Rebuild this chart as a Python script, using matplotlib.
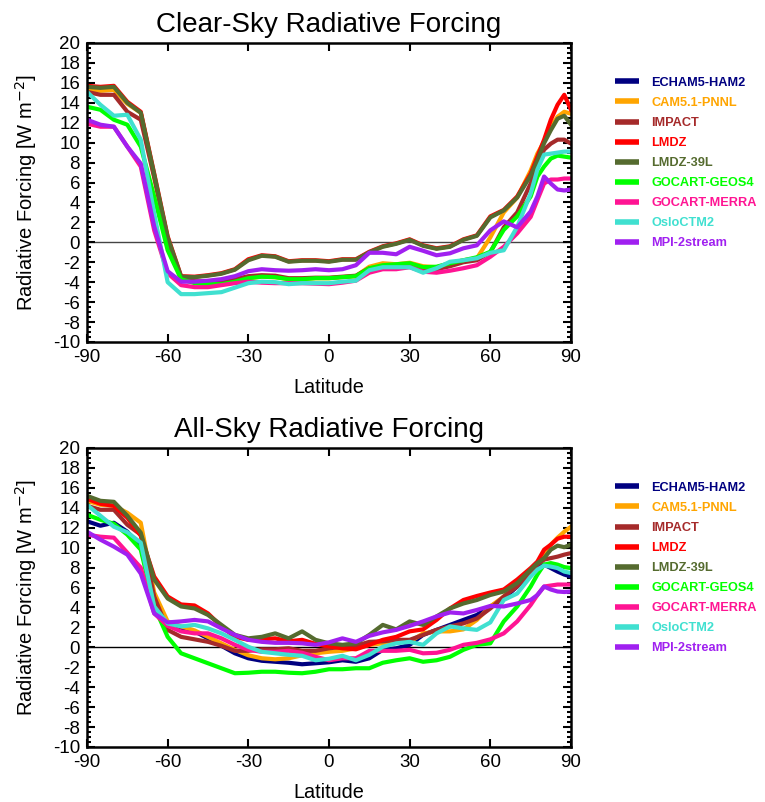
import matplotlib.pyplot as plt
from matplotlib.lines import Line2D
from matplotlib.ticker import MultipleLocator

plt.rcParams['font.family'] = ['Liberation Sans', 'DejaVu Sans']
plt.rcParams['axes.unicode_minus'] = False

# latitude grid (finer near the north pole)
lat = [-90, -85, -80, -75, -70, -65, -60, -55, -50, -45, -40, -35, -30, -25,
       -20, -15, -10, -5, 0, 5, 10, 15, 20, 25, 30, 35, 40, 45, 50, 55, 60,
       65, 70, 75, 77.5, 80, 82.5, 85, 87.5, 90]

models = ['ECHAM5-HAM2', 'CAM5.1-PNNL', 'IMPACT', 'LMDZ', 'LMDZ-39L',
          'GOCART-GEOS4', 'GOCART-MERRA', 'OsloCTM2', 'MPI-2stream']
colors = ['#000080', '#FFA500', '#A52A2A', '#FF0000', '#556B2F',
          '#00FF00', '#FF1493', '#40E0D0', '#A020F0']

# clear-sky forcing, W m-2 (no ECHAM5-HAM2 curve)
clr_cam = [15.3, 15.2, 15.3, 13.9, 13.0, 6.6, 0.3, -3.6, -4.0, -4.1, -4.1, -3.9, -3.6, -3.45,
           -3.5, -3.7, -3.7, -3.6, -3.6, -3.5, -3.4, -2.45, -2.1, -2.2, -2.05, -2.4, -2.5, -2.1, -1.8, -1.6, 0.5,
           3.0, 4.5, 7.2, 8.9, 10.1, 11.6, 12.6, 13.1, 12.9]
clr_impact = [15.1, 14.8, 14.8, 13.1, 12.3, 6.5, 0.3, -3.6, -3.9, -3.95, -3.9, -3.7, -3.4, -3.3,
              -3.35, -3.6, -3.6, -3.55, -3.55, -3.45, -3.35, -2.6, -2.5, -2.5, -2.3, -2.6, -2.7, -2.4, -2.0, -1.8, -1.0,
              1.5, 3.0, 5.9, 7.8, 9.3, 9.9, 10.3, 10.3, 9.9]
clr_lmdz = [15.7, 15.6, 15.7, 14.1, 13.1, 6.9, 0.6, -3.4, -3.45, -3.3, -3.1, -2.7, -1.7, -1.3,
            -1.4, -1.9, -1.8, -1.8, -1.9, -1.7, -1.7, -0.95, -0.4, -0.1, 0.3, -0.3, -0.6, -0.4, 0.3, 0.7, 2.6,
            3.25, 4.6, 6.9, 8.6, 10.3, 12.3, 13.8, 14.8, 13.3]
clr_lmdz39 = [15.6, 15.5, 15.6, 14.0, 13.0, 6.8, 0.5, -3.45, -3.5, -3.35, -3.15, -2.75, -1.8, -1.35,
              -1.45, -1.95, -1.85, -1.85, -1.95, -1.75, -1.75, -1.0, -0.45, -0.15, 0.25, -0.35, -0.65, -0.45, 0.25, 0.65, 2.5,
              3.2, 4.5, 6.7, 8.25, 9.95, 11.25, 12.4, 12.7, 11.8]
clr_geos4 = [13.6, 13.3, 12.3, 11.8, 9.6, 4.6, -0.8, -3.7, -4.1, -4.2, -4.2, -3.95, -3.6, -3.45,
             -3.5, -3.7, -3.7, -3.6, -3.6, -3.5, -3.4, -2.6, -2.3, -2.2, -2.1, -2.5, -2.45, -2.1, -1.8, -1.5, -0.95,
             1.25, 2.6, 4.6, 6.6, 7.6, 8.4, 8.7, 8.6, 8.5]
clr_merra = [11.9, 11.6, 11.6, 9.6, 7.6, 1.2, -3.1, -4.3, -4.5, -4.5, -4.3, -4.1, -3.95, -4.05,
             -4.1, -4.1, -4.1, -4.15, -4.2, -4.05, -3.85, -3.05, -2.7, -2.7, -2.5, -2.95, -3.05, -2.85, -2.6, -2.3, -1.45,
             -0.45, 0.9, 2.55, 4.25, 5.9, 6.3, 6.3, 6.4, 6.4]
clr_oslo = [15.1, 13.8, 12.7, 12.8, 10.3, 2.9, -4.0, -5.2, -5.2, -5.1, -5.0, -4.55, -4.1, -3.95,
            -4.0, -4.2, -4.1, -4.1, -4.1, -3.95, -3.85, -2.8, -2.5, -2.5, -2.5, -3.05, -2.6, -1.95, -1.8, -1.6, -1.05,
            -0.8, 1.55, 4.9, 7.3, 8.8, 8.9, 9.0, 9.1, 9.1]
clr_mpi = [12.3, 11.8, 11.6, 9.6, 7.9, 1.6, -2.9, -3.95, -3.95, -3.85, -3.7, -3.4, -2.9, -2.7,
           -2.8, -2.85, -2.8, -2.7, -2.8, -2.7, -2.3, -1.05, -1.05, -1.2, -0.45, -0.85, -1.3, -1.1, -0.6, -0.3, 1.2,
           2.1, 1.5, 3.1, 4.6, 6.6, 5.9, 5.3, 5.2, 5.3]

# all-sky forcing, W m-2
all_echam = [12.65, 12.2, 12.5, 11.6, 10.1, 4.4, 2.4, 1.9, 1.6, 0.9, 0.15, -0.6, -1.1, -1.35,
             -1.45, -1.55, -1.7, -1.6, -1.5, -1.3, -1.45, -1.1, -0.25, -0.1, 0.25, 1.25, 1.75, 2.25, 2.75, 3.25, 4.1,
             4.9, 6.1, 7.45, 7.95, 8.3, 7.95, 7.6, 7.3, 7.1]
all_cam = [14.7, 14.3, 14.2, 13.5, 12.5, 5.5, 2.6, 2.1, 1.7, 1.05, 0.4, -0.25, -0.8, -1.1,
           -1.2, -1.1, -0.8, -0.6, -0.45, -0.35, -0.1, 0.25, 0.4, 0.55, 0.55, 1.4, 1.6, 1.6, 1.8, 2.75, 4.1,
           5.1, 6.45, 7.8, 8.45, 9.3, 10.3, 11.0, 11.6, 12.1]
all_impact = [14.2, 13.8, 13.8, 12.3, 11.3, 5.1, 1.75, 1.05, 0.8, 0.55, 0.15, -0.35, -0.35, -0.2,
              -0.2, -0.1, -0.35, -0.35, -0.1, 0.05, 0.15, 0.55, 0.6, 0.75, 0.75, 1.25, 1.75, 2.1, 2.4, 2.9, 3.9,
              5.1, 6.1, 7.6, 8.3, 8.8, 8.95, 9.1, 9.3, 9.45]
all_lmdz = [14.9, 14.4, 14.2, 13.0, 11.2, 7.1, 5.1, 4.3, 4.2, 3.4, 2.1, 1.05, 0.75, 0.8,
            0.9, 0.6, 0.75, 0.35, 0.1, -0.1, -0.2, 0.25, 0.75, 1.05, 1.6, 1.8, 2.75, 3.9, 4.75, 5.15, 5.5,
            5.8, 6.8, 7.95, 8.6, 9.8, 10.3, 10.9, 11.1, 11.1]
all_lmdz39 = [15.2, 14.7, 14.6, 13.2, 11.5, 6.8, 4.9, 4.1, 3.9, 3.25, 2.25, 1.25, 0.9, 1.05,
              1.4, 0.9, 1.6, 0.75, 0.4, 0.25, 0.4, 1.25, 2.25, 1.8, 2.6, 2.25, 3.1, 3.9, 4.4, 4.75, 5.25,
              5.6, 6.45, 7.8, 8.45, 8.95, 9.8, 10.2, 10.05, 10.3]
all_geos4 = [13.3, 12.8, 12.4, 11.3, 9.8, 4.1, 1.05, -0.6, -1.1, -1.6, -2.1, -2.6, -2.55, -2.45,
             -2.45, -2.55, -2.6, -2.45, -2.2, -2.2, -2.1, -2.1, -1.55, -1.3, -1.1, -1.45, -1.3, -0.95, -0.25, 0.25, 0.4,
             2.6, 4.1, 6.1, 7.3, 8.3, 8.45, 8.3, 8.05, 7.95]
all_merra = [11.3, 11.1, 11.0, 9.5, 8.0, 3.4, 2.15, 1.6, 1.4, 1.4, 0.9, 0.25, -0.25, -0.45,
             -0.45, -0.35, -0.55, -0.95, -1.3, -1.1, -1.1, -0.35, -0.35, -0.35, -0.25, -0.6, -0.55, -0.25, 0.25, 0.45, 0.8,
             1.4, 2.6, 4.25, 5.25, 6.1, 6.2, 6.3, 6.3, 6.3]
all_oslo = [14.3, 13.2, 12.1, 11.55, 10.5, 4.1, 2.4, 2.1, 2.25, 1.9, 1.4, 0.75, 0.05, -0.45,
            -0.6, -0.75, -0.85, -1.3, -1.15, -0.85, -1.3, -0.75, 0.05, 0.4, 0.55, 0.25, 1.4, 2.1, 1.9, 1.75, 2.5,
            4.75, 5.4, 7.1, 7.8, 8.2, 8.1, 7.95, 7.6, 7.45]
all_mpi = [11.6, 10.8, 10.1, 9.3, 7.4, 3.4, 2.5, 2.6, 2.75, 2.6, 1.9, 1.25, 0.75, 0.55,
           0.45, 0.45, 0.4, 0.25, 0.5, 0.9, 0.55, 1.15, 1.5, 1.75, 2.15, 2.6, 3.1, 3.5, 3.4, 3.75, 4.15,
           4.1, 4.4, 4.75, 5.25, 6.1, 5.8, 5.6, 5.55, 5.6]

clear_sky = [None, clr_cam, clr_impact, clr_lmdz, clr_lmdz39,
             clr_geos4, clr_merra, clr_oslo, clr_mpi]
all_sky = [all_echam, all_cam, all_impact, all_lmdz, all_lmdz39,
           all_geos4, all_merra, all_oslo, all_mpi]

fig = plt.figure(figsize=(7.65, 8.02), dpi=100)
ax1 = fig.add_axes([0.1137, 0.5736, 0.6327, 0.3728])
ax2 = fig.add_axes([0.1137, 0.0686, 0.6327, 0.3728])

panels = [(ax1, 'Clear-Sky Radiative Forcing', clear_sky, '#444444'),
          (ax2, 'All-Sky Radiative Forcing', all_sky, 'black')]

for ax, title, series, zcol in panels:
    ax.axhline(0, color=zcol, lw=1, zorder=1)
    for vals, c in zip(series, colors):
        if vals is not None:
            ax.plot(lat, vals, color=c, lw=3, zorder=2)

    ax.set_xlim(-90, 90)
    ax.set_ylim(-10, 20)
    ax.set_xticks([-90, -60, -30, 0, 30, 60, 90])
    ax.yaxis.set_major_locator(MultipleLocator(2))
    ax.yaxis.set_minor_locator(MultipleLocator(0.5))
    ax.tick_params(which='both', direction='in', top=True, right=True,
                   labelsize=13.5, width=1.5)
    ax.tick_params(which='major', length=6, pad=5)
    ax.tick_params(which='minor', length=3)
    for sp in ax.spines.values():
        sp.set_linewidth(1.8)

    ax.set_title(title, fontsize=20, pad=8)
    ax.set_xlabel('Latitude', fontsize=14.3, labelpad=9)
    ax.set_ylabel('Radiative Forcing [W m$^{-2}$]', fontsize=14.5, labelpad=10)

    # legend lists every model, coloured text next to a short bar
    handles = [Line2D([], [], color=c, lw=4, solid_capstyle='butt') for c in colors]
    ax.legend(handles, models, loc='upper left', bbox_to_anchor=(1.077, 0.908),
              frameon=False, labelcolor='linecolor', handlelength=1.9,
              handletextpad=0.95, labelspacing=0.63, borderpad=0,
              prop={'weight': 'bold', 'size': 9.2})

fig.savefig('out.png', dpi=100)
